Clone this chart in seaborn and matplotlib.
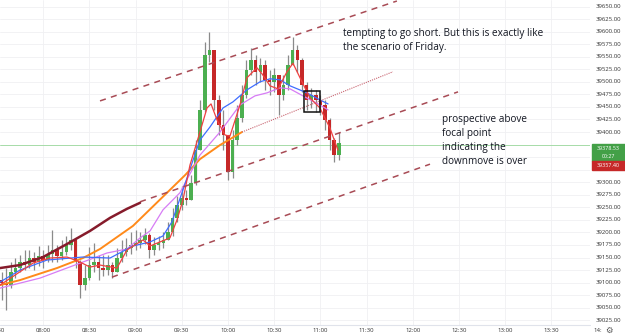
import matplotlib
matplotlib.use('Agg')
import matplotlib.pyplot as plt
import matplotlib.patches as patches
import matplotlib.transforms as mtransforms
import numpy as np
import pandas as pd
import seaborn as sns

### DATA ###
# 3-minute candles, time in minutes after 07:30
candle_min = list(range(3, 225, 3))
first_open = 39105
closes = [39099, 39095, 39121, 39129, 39141, 39135, 39149, 39141, 39153, 39145,
          39157, 39165, 39153, 39161, 39175, 39185, 39141, 39095, 39109, 39135,
          39141, 39129, 39125, 39135, 39121, 39149, 39161, 39169, 39175, 39179,
          39185, 39195, 39165, 39175, 39179, 39185, 39201, 39229, 39255, 39269,
          39265, 39298, 39364, 39444, 39553, 39563, 39464, 39414, 39394, 39320,
          39384, 39428, 39474, 39524, 39543, 39520, 39534, 39504, 39500, 39514,
          39474, 39494, 39534, 39563, 39543, 39494, 39464, 39474, 39464, 39454,
          39424, 39384, 39354, 39378.5]
highs = [39121, 39129, 39141, 39149, 39155, 39165, 39165, 39161, 39173, 39165,
         39175, 39205, 39175, 39185, 39193, 39209, 39185, 39145, 39135, 39171,
         39179, 39155, 39155, 39155, 39141, 39169, 39185, 39189, 39201, 39205,
         39201, 39209, 39199, 39191, 39193, 39201, 39221, 39249, 39273, 39292,
         39285, 39314, 39384, 39464, 39579, 39599, 39563, 39474, 39444, 39394,
         39404, 39454, 39494, 39543, 39567, 39553, 39547, 39543, 39524, 39528,
         39508, 39514, 39553, 39589, 39573, 39547, 39500, 39488, 39484, 39474,
         39464, 39428, 39388, 39400]
lows = [39065, 39045, 39089, 39109, 39121, 39125, 39129, 39125, 39133, 39129,
        39141, 39141, 39141, 39145, 39155, 39165, 39129, 39069, 39085, 39105,
        39121, 39105, 39113, 39115, 39109, 39121, 39141, 39153, 39157, 39165,
        39169, 39177, 39149, 39155, 39165, 39169, 39185, 39193, 39221, 39245,
        39255, 39265, 39294, 39364, 39440, 39540, 39444, 39394, 39364, 39304,
        39308, 39374, 39420, 39468, 39514, 39494, 39500, 39484, 39474, 39480,
        39434, 39464, 39484, 39534, 39520, 39480, 39444, 39448, 39440, 39434,
        39404, 39364, 39340, 39344]

# moving averages
ma_red_t = [1.9, 11.7, 23.4, 34.4, 45.5, 53.9, 60.4, 66.9, 77.9, 84.4, 94.8, 99.4,
            105.8, 112.3, 116.9, 120.8, 125.3, 131.8, 136.4, 139, 142.9, 148.1,
            151.3, 157.8, 162.3, 168.8, 172.1, 177.3, 182.5, 188.3, 192.2, 196.8,
            203.2, 209.7, 216.2, 221.4]
ma_red = [39095, 39115, 39139, 39149, 39151, 39141, 39131, 39135, 39129, 39165,
          39185, 39173, 39181, 39189, 39225, 39265, 39334, 39400, 39448, 39456,
          39424, 39394, 39392, 39454, 39508, 39528, 39516, 39492, 39486, 39520,
          39537, 39508, 39468, 39448, 39408, 39364]
ma_blue_t = [1.9, 14.9, 32.5, 55.8, 73.4, 88.3, 99.4, 107.8, 113.6, 120.8, 127.3,
             131.8, 138.3, 146.8, 153.2, 162.3, 170.8, 177.3, 183.8, 190.3, 201.3,
             209.7, 215]
ma_blue = [39101, 39125, 39145, 39151, 39149, 39173, 39181, 39193, 39221, 39285,
           39344, 39384, 39410, 39448, 39460, 39484, 39500, 39506, 39504, 39492,
           39478, 39464, 39456]
ma_violet_t = [1.9, 14.9, 27.9, 55.8, 71.4, 84.4, 92.9, 99.4, 107.8, 118.8, 131.8,
               144.8, 157.8, 167.5, 175.3, 183.8, 190.3, 198.7, 209.7, 215]
ma_violet = [39089, 39099, 39109, 39141, 39159, 39167, 39189, 39203, 39245, 39279,
             39354, 39400, 39454, 39472, 39478, 39488, 39486, 39472, 39454, 39444]
ma_orange_t = [1.9, 14.9, 38.9, 55.8, 66.9, 88.3, 110.4, 122.1, 131.8, 144.8, 159.1]
ma_orange = [39095, 39105, 39129, 39149, 39167, 39213, 39279, 39314, 39346, 39374, 39400]
ma_maroon_t = [1.9, 14.9, 29.9, 45.5, 60.4, 73.4, 84.4, 92.9]
ma_maroon = [39129, 39135, 39151, 39177, 39203, 39229, 39247, 39259]

# drawn trend lines (start, end)
chan_upper_t = [66.9, 259.7]
chan_upper = [39462, 39661]
chan_mid_t = [92.9, 299.4]
chan_mid = [39261, 39480]
chan_low_t = [74.7, 281.2]
chan_low = [39111, 39336]
dotted_t = [159.1, 257.1]
dotted = [39400, 39520]
box_t = [199.4, 209.7]
box_p = [39440, 39482]

last_price = 39375
time_labels = ['07:30', '08:00', '08:30', '09:00', '09:30', '10:00', '10:30',
               '11:00', '11:30', '12:00', '12:30', '13:00', '13:30', '14:']
price_ticks = list(range(39025, 39651, 25))
hidden_ticks = [39350, 39375]   # covered by the price labels

note1 = ['tempting to go short. But this is exactly like', 'the scenario of Friday.']
note2 = ['prospective above', 'focal point', 'indicating the', 'downmove is over']

### PLOT ###
sns.set_style('white')
plt.rcParams['font.family'] = ['Open Sans', 'DejaVu Sans']

fig = plt.figure(figsize=(6.25, 3.35), dpi=100)
ax = fig.add_axes([0, 10/335, 590/625, 325/335])
ax.set_xlim(1.95, 385.1)
ax.set_ylim(39015.6, 39663)

# grid
for p in price_ticks:
    ax.axhline(p, color='#f0f0f3', lw=0.6, zorder=0)
for i in range(len(time_labels)):
    ax.axvline(i*30, color='#f0f0f3', lw=0.6, zorder=0)

# candles
df = pd.DataFrame({'t': candle_min, 'close': closes, 'high': highs, 'low': lows})
df['open'] = [first_open] + closes[:-1]
up = df['close'] >= df['open']
ax.vlines(df['t'], df['low'], df['high'], color='#8a8a8a', lw=0.9, zorder=2)
ax.bar(df['t'], (df['close']-df['open']).abs().clip(lower=2), bottom=df[['open', 'close']].min(axis=1),
       width=2.3, color=np.where(up, '#4caf50', '#c62828'), lw=0, zorder=3)

# moving averages
sns.lineplot(x=ma_maroon_t, y=ma_maroon, ax=ax, color='#861b2b', lw=1.8, sort=False, estimator=None, zorder=4)
sns.lineplot(x=ma_orange_t, y=ma_orange, ax=ax, color='#ff8a1a', lw=1.4, sort=False, estimator=None, zorder=4)
sns.lineplot(x=ma_violet_t, y=ma_violet, ax=ax, color='#d77cf5', lw=0.9, sort=False, estimator=None, zorder=4)
sns.lineplot(x=ma_blue_t, y=ma_blue, ax=ax, color='#3f6dff', lw=0.9, sort=False, estimator=None, zorder=4)
sns.lineplot(x=ma_red_t, y=ma_red, ax=ax, color='#ef4040', lw=0.9, sort=False, estimator=None, zorder=5)

# trend channel
for tt, pp in [(chan_upper_t, chan_upper), (chan_mid_t, chan_mid), (chan_low_t, chan_low)]:
    ax.plot(tt, pp, color='#a84b55', lw=1.1, dashes=(4, 3.5), zorder=6)
ax.plot(dotted_t, dotted, color='#c86470', lw=0.8, ls=(0, (1, 1)), zorder=6)
ax.add_patch(patches.Rectangle((box_t[0], box_p[0]), box_t[1]-box_t[0], box_p[1]-box_p[0],
                               fill=False, ec='#111111', lw=1.1, zorder=7))

ax.axhline(last_price, color='#9ad89c', lw=0.6, zorder=1)

# notes
ax.text(224.7, 39591, note1[0], fontsize=7.2, color='#131722')
ax.text(224.7, 39563, note1[1], fontsize=7.2, color='#131722')
for s, p in zip(note2, [39419, 39392, 39364, 39336]):
    ax.text(288.8, p, s, fontsize=7.2, color='#131722')

# axes
ax.set_xticks([])
ax.set_yticks([])
for sp in ax.spines.values():
    sp.set_visible(False)
ax.plot([0, 1], [0, 0], transform=ax.transAxes, color='#e0e3eb', lw=0.8, clip_on=False)

trans = mtransforms.blended_transform_factory(ax.transData, fig.transFigure)
for i, lab in enumerate(time_labels):
    ax.text(i*30, 1-330.5/335, lab, transform=trans, fontsize=4.3, color='#333333',
            ha='center', va='center', clip_on=False)
transy = mtransforms.blended_transform_factory(fig.transFigure, ax.transData)
for p in price_ticks:
    if p in hidden_ticks:
        continue
    ax.text(596/625, p, '%.2f' % p, transform=transy, fontsize=4.3, color='#333333',
            ha='left', va='center', clip_on=False)

# price boxes
fig.add_artist(patches.Rectangle((592/625, 1-161/335), 33/625, 17/335, transform=fig.transFigure,
                                 color='#43a047', zorder=10))
fig.add_artist(patches.Rectangle((592/625, 1-170/335), 33/625, 9/335, transform=fig.transFigure,
                                 color='#c62828', zorder=10))
fig.text(608/625, 1-148/335, '39378.53', fontsize=3.9, color='white', ha='center', va='center', zorder=11)
fig.text(608/625, 1-156.8/335, '00:27', fontsize=3.9, color='white', ha='center', va='center', zorder=11)
fig.text(608/625, 1-165.5/335, '39357.40', fontsize=3.9, color='white', ha='center', va='center', zorder=11)
fig.text(609/625, 1-330.5/335, '\u2699', fontsize=6, color='#555555', ha='center', va='center',
         family='DejaVu Sans')

fig.savefig('out.png', dpi=100)
